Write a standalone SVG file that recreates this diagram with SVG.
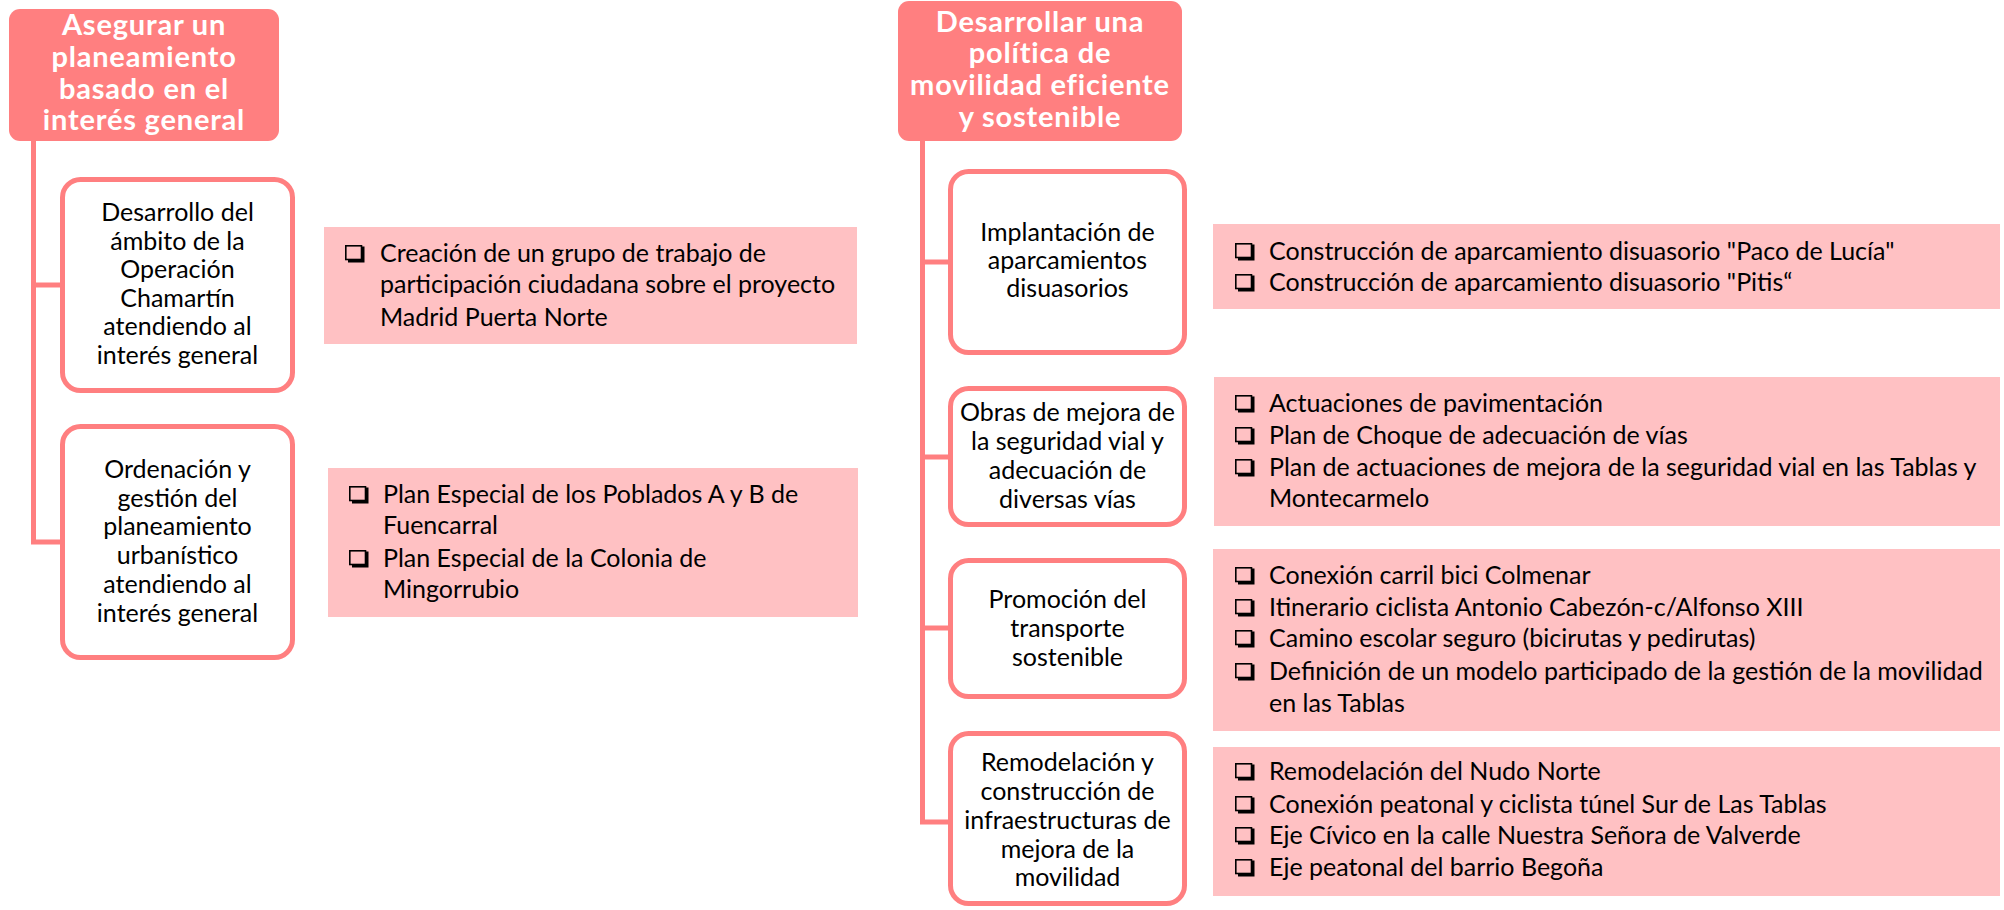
<svg xmlns="http://www.w3.org/2000/svg" xmlns:xlink="http://www.w3.org/1999/xlink" width="2004" height="910" viewBox="0 0 2004 910">
<defs>
<style>
.hdr{fill:#FF7F80;}
.htx{font-family:Lato,"Open Sans","Liberation Sans",sans-serif;font-weight:700;font-size:29px;letter-spacing:0.8px;fill:#fff;text-anchor:middle;}
.box{fill:#fff;stroke:#FF7F80;stroke-width:5;}
.btx{font-family:Lato,"Open Sans","Liberation Sans",sans-serif;font-size:25px;fill:#000;text-anchor:middle;}
.pink{fill:#FFC1C3;}
.ptx{font-family:Lato,"Open Sans","Liberation Sans",sans-serif;font-size:25px;fill:#000;}
.conn{fill:none;stroke:#FF7F80;stroke-width:5;stroke-linejoin:miter;}
</style>
<g id="cb">
<path d="M3 14.5 H16.5 V1.5 H19.5 V17.5 H3 Z" fill="#000"/>
<rect x="0.8" y="0.8" width="15.7" height="13.7" fill="none" stroke="#000" stroke-width="1.6"/>
</g>
</defs>
<rect width="2004" height="910" fill="#fff"/>

<g id="connectors">
<path class="conn" d="M33.5 141 V542 H62"/>
<path class="conn" d="M33.5 285 H62"/>
<path class="conn" d="M922.5 141 V822 H950"/>
<path class="conn" d="M922.5 262 H950"/>
<path class="conn" d="M922.5 457 H950"/>
<path class="conn" d="M922.5 628 H950"/>
</g>

<g id="h1">
<rect class="hdr" x="9" y="9" width="270" height="132" rx="11"/>
<text class="htx"><tspan x="144" y="35">Asegurar un</tspan><tspan x="144" y="67">planeamiento</tspan><tspan x="144" y="99">basado en el</tspan><tspan x="144" y="130">interés general</tspan></text>
</g>

<g id="l1">
<rect class="box" x="62.5" y="179.5" width="230" height="211" rx="18"/>
<text class="btx"><tspan x="177.5" y="221">Desarrollo del</tspan><tspan x="177.5" y="250">ámbito de la</tspan><tspan x="177.5" y="278">Operación</tspan><tspan x="177.5" y="307">Chamartín</tspan><tspan x="177.5" y="335">atendiendo al</tspan><tspan x="177.5" y="364">interés general</tspan></text>
</g>

<g id="l2">
<rect class="box" x="62.5" y="426.5" width="230" height="231" rx="18"/>
<text class="btx"><tspan x="177.5" y="478">Ordenación y</tspan><tspan x="177.5" y="507">gestión del</tspan><tspan x="177.5" y="535">planeamiento</tspan><tspan x="177.5" y="564">urbanístico</tspan><tspan x="177.5" y="593">atendiendo al</tspan><tspan x="177.5" y="622">interés general</tspan></text>
</g>

<g id="pa">
<rect class="pink" x="324" y="227" width="533" height="117"/>
<use xlink:href="#cb" x="345" y="245"/>
<text class="ptx"><tspan x="380" y="262">Creación de un grupo de trabajo de</tspan><tspan x="380" y="293">participación ciudadana sobre el proyecto</tspan><tspan x="380" y="326">Madrid Puerta Norte</tspan></text>
</g>

<g id="pb">
<rect class="pink" x="328" y="468" width="530" height="149"/>
<use xlink:href="#cb" x="349" y="486"/>
<use xlink:href="#cb" x="349" y="550"/>
<text class="ptx"><tspan x="383" y="503">Plan Especial de los Poblados A y B de</tspan><tspan x="383" y="534">Fuencarral</tspan><tspan x="383" y="567">Plan Especial de la Colonia de</tspan><tspan x="383" y="598">Mingorrubio</tspan></text>
</g>

<g id="h2">
<rect class="hdr" x="898" y="1" width="284" height="140" rx="11"/>
<text class="htx"><tspan x="1040" y="32">Desarrollar una</tspan><tspan x="1040" y="63">política de</tspan><tspan x="1040" y="95">movilidad eficiente</tspan><tspan x="1040" y="127">y sostenible</tspan></text>
</g>

<g id="r1">
<rect class="box" x="950.5" y="171.5" width="234" height="181" rx="18"/>
<text class="btx"><tspan x="1067.5" y="241">Implantación de</tspan><tspan x="1067.5" y="269">aparcamientos</tspan><tspan x="1067.5" y="297">disuasorios</tspan></text>
</g>

<g id="r2">
<rect class="box" x="950.5" y="388.5" width="234" height="136" rx="18"/>
<text class="btx"><tspan x="1067.5" y="421">Obras de mejora de</tspan><tspan x="1067.5" y="450">la seguridad vial y</tspan><tspan x="1067.5" y="479">adecuación de</tspan><tspan x="1067.5" y="508">diversas vías</tspan></text>
</g>

<g id="r3">
<rect class="box" x="950.5" y="560.5" width="234" height="136" rx="18"/>
<text class="btx"><tspan x="1067.5" y="608">Promoción del</tspan><tspan x="1067.5" y="637">transporte</tspan><tspan x="1067.5" y="666">sostenible</tspan></text>
</g>

<g id="r4">
<rect class="box" x="950.5" y="733.5" width="234" height="170" rx="18"/>
<text class="btx"><tspan x="1067.5" y="771">Remodelación y</tspan><tspan x="1067.5" y="800">construcción de</tspan><tspan x="1067.5" y="829">infraestructuras de</tspan><tspan x="1067.5" y="858">mejora de la</tspan><tspan x="1067.5" y="886">movilidad</tspan></text>
</g>

<g id="pr1">
<rect class="pink" x="1213" y="224" width="787" height="85"/>
<use xlink:href="#cb" x="1235" y="243"/>
<use xlink:href="#cb" x="1235" y="274"/>
<text class="ptx"><tspan x="1269" y="260">Construcción de aparcamiento disuasorio "Paco de Lucía"</tspan><tspan x="1269" y="291">Construcción de aparcamiento disuasorio "Pitis“</tspan></text>
</g>

<g id="pr2">
<rect class="pink" x="1214" y="377" width="786" height="149"/>
<use xlink:href="#cb" x="1235" y="395"/>
<use xlink:href="#cb" x="1235" y="427"/>
<use xlink:href="#cb" x="1235" y="459"/>
<text class="ptx"><tspan x="1269" y="412">Actuaciones de pavimentación</tspan><tspan x="1269" y="444">Plan de Choque de adecuación de vías</tspan><tspan x="1269" y="476">Plan de actuaciones de mejora de la seguridad vial en las Tablas y</tspan><tspan x="1269" y="507">Montecarmelo</tspan></text>
</g>

<g id="pr3">
<rect class="pink" x="1213" y="549" width="787" height="182"/>
<use xlink:href="#cb" x="1235" y="567"/>
<use xlink:href="#cb" x="1235" y="599"/>
<use xlink:href="#cb" x="1235" y="630"/>
<use xlink:href="#cb" x="1235" y="663"/>
<text class="ptx"><tspan x="1269" y="584">Conexión carril bici Colmenar</tspan><tspan x="1269" y="616">Itinerario ciclista Antonio Cabezón-c/Alfonso XIII</tspan><tspan x="1269" y="647">Camino escolar seguro (bicirutas y pedirutas)</tspan><tspan x="1269" y="680">Definición de un modelo participado de la gestión de la movilidad</tspan><tspan x="1269" y="712">en las Tablas</tspan></text>
</g>

<g id="pr4">
<rect class="pink" x="1213" y="747" width="787" height="149"/>
<use xlink:href="#cb" x="1235" y="763"/>
<use xlink:href="#cb" x="1235" y="796"/>
<use xlink:href="#cb" x="1235" y="827"/>
<use xlink:href="#cb" x="1235" y="859"/>
<text class="ptx"><tspan x="1269" y="780">Remodelación del Nudo Norte</tspan><tspan x="1269" y="813">Conexión peatonal y ciclista túnel Sur de Las Tablas</tspan><tspan x="1269" y="844">Eje Cívico en la calle Nuestra Señora de Valverde</tspan><tspan x="1269" y="876">Eje peatonal del barrio Begoña</tspan></text>
</g>
</svg>
